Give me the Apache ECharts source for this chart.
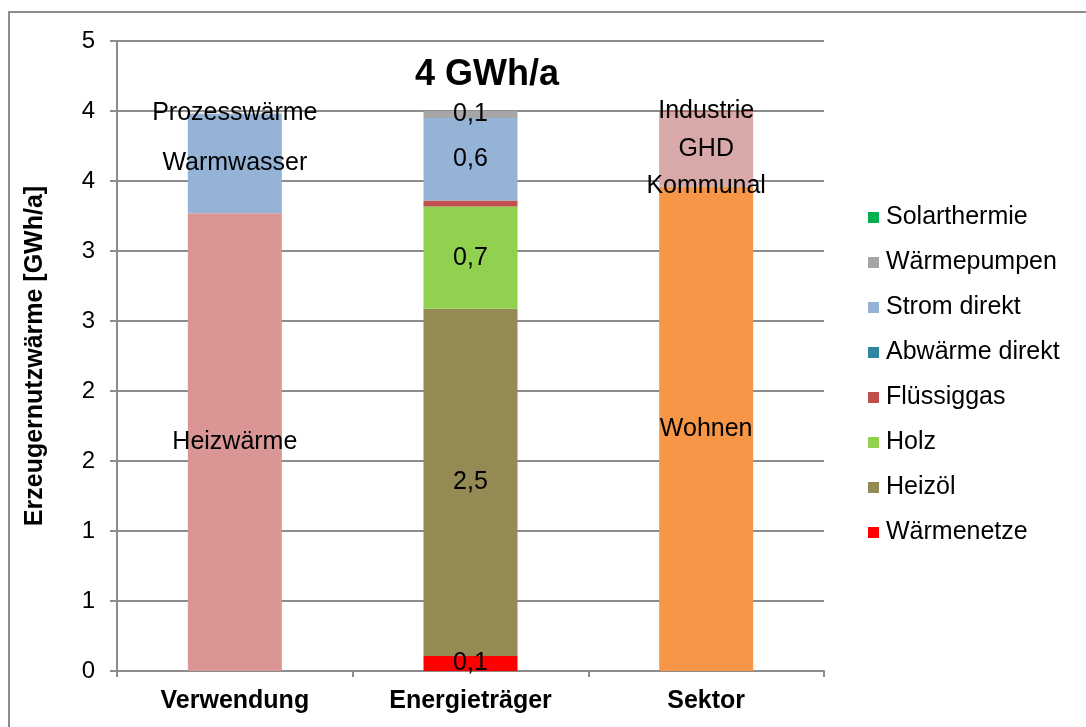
<!DOCTYPE html>
<html>
<head>
<meta charset="utf-8">
<script src="https://cdn.jsdelivr.net/npm/echarts@6/dist/echarts.min.js"></script>
<style>html,body{margin:0;padding:0;background:#fff}#c{width:1086px;height:727px}</style>
</head>
<body>
<div id="c"></div>
<script>
const categories = ['Verwendung', 'Energieträger', 'Sektor'];
const verwendungNames = ['Heizwärme', 'Warmwasser', 'Prozesswärme'];
const verwendungValues = [3.27, 0.71, 0.01];
const verwendungColors = ['#D99694', '#95B3D7', '#D9D9D9'];
const traegerNames = ['Wärmenetze', 'Heizöl', 'Holz', 'Flüssiggas', 'Abwärme direkt', 'Strom direkt', 'Wärmepumpen', 'Solarthermie'];
const traegerValues = [0.107, 2.48, 0.73, 0.043, 0, 0.59, 0.05, 0];
const traegerColors = ['#FF0000', '#948A54', '#92D050', '#C0504D', '#31859C', '#95B3D7', '#A6A6A6', '#00B050'];
const sektorNames = ['Wohnen', 'Kommunal', 'GHD', 'Industrie'];
const sektorValues = [3.46, 0.005, 0.53, 0.005];
const sektorColors = ['#F79646', '#95B3D7', '#D9A8A8', '#C0504D'];
const titleText = '4 GWh/a';

const FONT = 'Liberation Sans, Arial, sans-serif';
const LABEL_SIZE = 25;
const series = [];
function addGroup(names, values, colors, catIndex, labelFn) {
  names.forEach((n, i) => {
    const data = categories.map((c, k) => k === catIndex ? values[i] : '-');
    const txt = labelFn(values[i], n);
    series.push({
      name: n, type: 'bar', stack: 'total', barWidth: 94,
      itemStyle: { color: colors[i] },
      data: data,
      label: {
        show: txt !== null,
        position: 'inside',
        color: '#000', fontSize: LABEL_SIZE, fontFamily: FONT,
        formatter: () => txt || ''
      }
    });
  });
}
addGroup(verwendungNames, verwendungValues, verwendungColors, 0, (v, n) => n);
addGroup(traegerNames, traegerValues, traegerColors, 1, (v) => v >= 0.05 ? v.toFixed(1).replace('.', ',') : null);
addGroup(sektorNames, sektorValues, sektorColors, 2, (v, n) => n);

const chart = echarts.init(document.getElementById('c'));
chart.setOption({
  animation: false,
  backgroundColor: '#fff',
  textStyle: { fontFamily: FONT },
  title: {
    text: titleText, left: 410, top: 52,
    textStyle: { fontSize: 36, fontWeight: 'bold', color: '#000', fontFamily: FONT }
  },
  grid: { left: 117, right: 262, top: 41, bottom: 56, containLabel: false },
  legend: {
    data: traegerNames.slice().reverse(),
    orient: 'vertical', left: 863, top: 200,
    icon: 'rect', itemWidth: 11, itemHeight: 11, itemGap: 20,
    selectedMode: false,
    textStyle: { fontSize: 25, color: '#000', fontFamily: FONT, padding: [0, 0, 0, 2] }
  },
  xAxis: {
    type: 'category', data: categories,
    axisLine: { lineStyle: { color: '#8C8C8C', width: 2 } },
    axisTick: { show: true, length: 6, lineStyle: { color: '#8C8C8C', width: 2 } },
    axisLabel: { fontSize: 25, fontWeight: 'bold', color: '#000', margin: 18, fontFamily: FONT }
  },
  yAxis: {
    type: 'value', min: 0, max: 4.5, interval: 0.5,
    name: 'Erzeugernutzwärme [GWh/a]', nameLocation: 'middle', nameGap: 69,
    nameTextStyle: { fontSize: 25, fontWeight: 'bold', color: '#000', fontFamily: FONT },
    axisLine: { show: true, lineStyle: { color: '#8C8C8C', width: 2 } },
    axisTick: { show: true, length: 7, lineStyle: { color: '#8C8C8C', width: 2 } },
    splitLine: { show: true, lineStyle: { color: '#8C8C8C', width: 2 } },
    axisLabel: {
      fontSize: 24, color: '#000', margin: 22, fontFamily: FONT,
      formatter: (v) => String(Math.round(v))
    }
  },
  graphic: [{
    type: 'rect', silent: true, z: 100,
    shape: { x: 9, y: 12, width: 1200, height: 900 },
    style: { fill: 'none', stroke: '#8C8C8C', lineWidth: 2 }
  }],
  series: series
});
</script>
</body>
</html>
